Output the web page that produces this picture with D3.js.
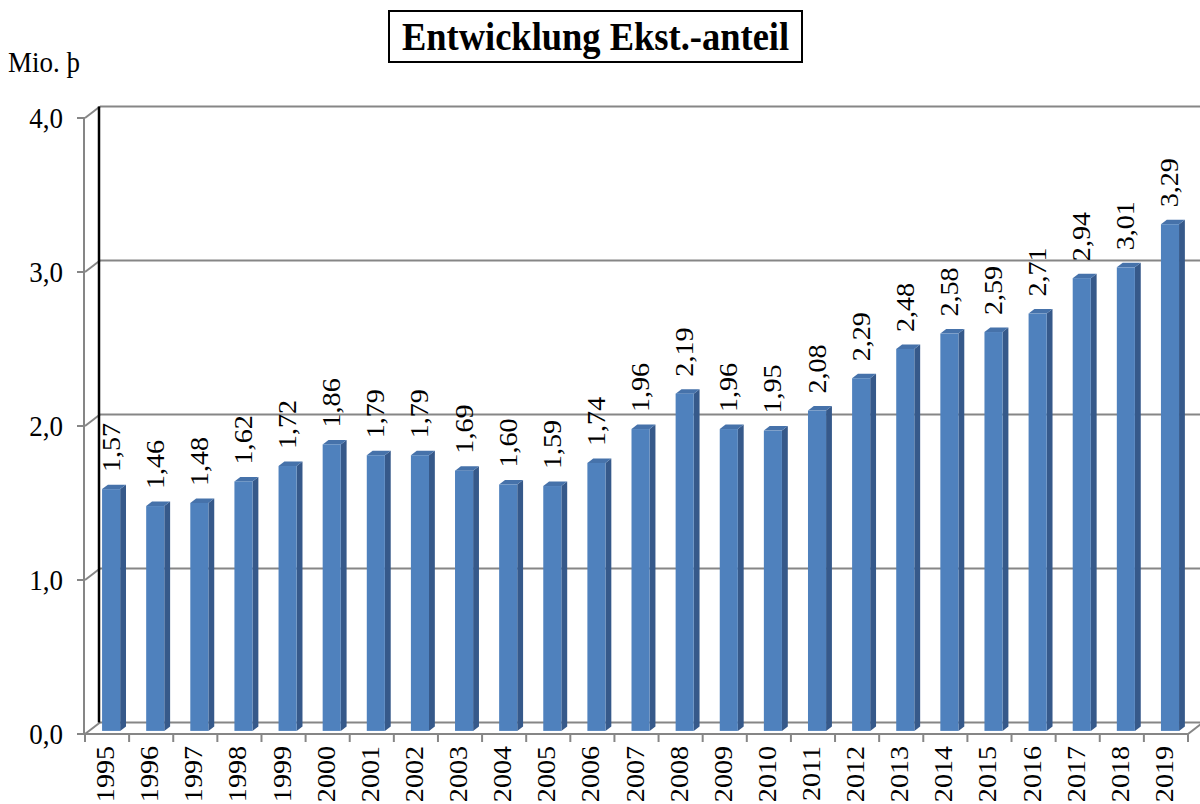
<!DOCTYPE html>
<html>
<head>
<meta charset="utf-8">
<script src="https://cdn.jsdelivr.net/npm/d3@7"></script>
<style>
  html, body { margin: 0; padding: 0; background: #fff; }
  svg { display: block; }
  text { font-family: "Liberation Serif", "Times New Roman", serif; fill: #000; }
</style>
</head>
<body>
<svg id="chart" width="1200" height="804"></svg>
<script>
const years = ["1995","1996","1997","1998","1999","2000","2001","2002","2003","2004","2005","2006","2007","2008","2009","2010","2011","2012","2013","2014","2015","2016","2017","2018","2019"];
const values = [1.57,1.46,1.48,1.62,1.72,1.86,1.79,1.79,1.69,1.60,1.59,1.74,1.96,2.19,1.96,1.95,2.08,2.29,2.48,2.58,2.59,2.71,2.94,3.01,3.29];
const yTickValues = [0,1,2,3,4];
const yTickLabels = ["0,0","1,0","2,0","3,0","4,0"];
const titleText = "Entwicklung Ekst.-anteil";
const unitText = "Mio. þ";

const svg = d3.select("#chart");

const yFront = d3.scaleLinear().domain([0, 4]).range([734, 118]);
const xFront = d3.scaleBand().domain(years).range([85, 1188]).paddingInner(0).paddingOuter(0);
const D = { x: 15, y: -11.5 };  // depth vector of the 3D box
const f1 = 0.27, f2 = 0.66;     // bar front / back depth fractions
const bw = xFront.bandwidth();
const barW = bw * 0.41;
const grid = "#868686";
const sy = 1.08;                // slight vertical stretch of text

// back wall gridlines
svg.append("g").selectAll("line").data(yTickValues).join("line")
  .attr("x1", 85 + D.x).attr("x2", 1200)
  .attr("y1", d => yFront(d) + D.y).attr("y2", d => yFront(d) + D.y)
  .attr("stroke", grid).attr("stroke-width", 2);

// side wall gridlines (diagonals)
svg.append("g").selectAll("line").data(yTickValues).join("line")
  .attr("x1", 85).attr("x2", 85 + D.x)
  .attr("y1", d => yFront(d)).attr("y2", d => yFront(d) + D.y)
  .attr("stroke", grid).attr("stroke-width", 2);

// front vertical axis
svg.append("line").attr("x1", 84).attr("x2", 84)
  .attr("y1", yFront(4)).attr("y2", yFront(0))
  .attr("stroke", grid).attr("stroke-width", 2);

// y ticks
svg.append("g").selectAll("line").data(yTickValues).join("line")
  .attr("x1", 77).attr("x2", 85)
  .attr("y1", d => yFront(d)).attr("y2", d => yFront(d))
  .attr("stroke", grid).attr("stroke-width", 2);

// black back-corner edge
svg.append("line").attr("x1", 85 + D.x - 1).attr("x2", 85 + D.x - 1)
  .attr("y1", yFront(4) + D.y).attr("y2", yFront(0) + D.y)
  .attr("stroke", "#000").attr("stroke-width", 2.5);

// floor front edge & right diagonal
const xEnd = xFront.range()[1];
svg.append("line").attr("x1", 84).attr("x2", xEnd)
  .attr("y1", yFront(0)).attr("y2", yFront(0))
  .attr("stroke", grid).attr("stroke-width", 2);
svg.append("line").attr("x1", xEnd).attr("x2", xEnd + D.x)
  .attr("y1", yFront(0)).attr("y2", yFront(0) + D.y)
  .attr("stroke", grid).attr("stroke-width", 2);

// x ticks
const tickXs = years.map(y => xFront(y)).concat([xEnd]);
svg.append("g").selectAll("line").data(tickXs).join("line")
  .attr("x1", d => d).attr("x2", d => d)
  .attr("y1", yFront(0)).attr("y2", yFront(0) + 8)
  .attr("stroke", grid).attr("stroke-width", 2);

// bars
const bars = svg.append("g").selectAll("g").data(years.map((y, i) => ({ year: y, v: values[i] }))).join("g");
const fx = d => xFront(d.year) + bw / 2 - barW / 2 + f1 * D.x;
const ddx = (f2 - f1) * D.x, ddy = (f2 - f1) * D.y;
const barBase = d => yFront(0) + f1 * D.y;
const barTop = d => yFront(d.v) + f1 * D.y;

// side face
bars.append("path")
  .attr("d", d => {
    const x = fx(d) + barW;
    return `M${x},${barTop(d)}L${x + ddx},${barTop(d) + ddy}L${x + ddx},${barBase(d) + ddy}L${x},${barBase(d)}Z`;
  })
  .attr("fill", "#36598a");
// top face
bars.append("path")
  .attr("d", d => {
    const x = fx(d);
    return `M${x},${barTop(d)}L${x + ddx},${barTop(d) + ddy}L${x + barW + ddx},${barTop(d) + ddy}L${x + barW},${barTop(d)}Z`;
  })
  .attr("fill", "#4672aa");
// front face
bars.append("rect")
  .attr("x", d => fx(d)).attr("y", d => barTop(d))
  .attr("width", barW).attr("height", d => barBase(d) - barTop(d))
  .attr("fill", "#4f81bd");

// value labels
bars.append("text")
  .attr("transform", d => `translate(${fx(d) + barW / 2 + 8.5},${barTop(d) - 17}) scale(1,${sy}) rotate(-90)`)
  .attr("font-size", 26)
  .attr("text-anchor", "start")
  .text(d => d.v.toFixed(2).replace(".", ","));

// year labels
svg.append("g").selectAll("text").data(years).join("text")
  .attr("transform", d => `translate(${xFront(d) + bw / 2 + 7},746) scale(1,${sy}) rotate(-90)`)
  .attr("font-size", 26)
  .attr("text-anchor", "end")
  .text(d => d);

// y tick labels
svg.append("g").selectAll("text").data(yTickValues).join("text")
  .attr("transform", d => `translate(63,${yFront(d) + 10}) scale(1,${sy})`)
  .attr("font-size", 27)
  .attr("text-anchor", "end")
  .text((d, i) => yTickLabels[i]);

// unit label
svg.append("text").attr("transform", `translate(8,72) scale(1,1.1)`).attr("font-size", 27).text(unitText);

// title
svg.append("rect").attr("x", 389).attr("y", 11).attr("width", 413).attr("height", 51)
  .attr("fill", "#fff").attr("stroke", "#000").attr("stroke-width", 2);
svg.append("text").attr("transform", `translate(595.5,50) scale(1,${sy})`).attr("text-anchor", "middle")
  .attr("font-size", 36.5).attr("font-weight", "bold").text(titleText);
</script>
</body>
</html>
